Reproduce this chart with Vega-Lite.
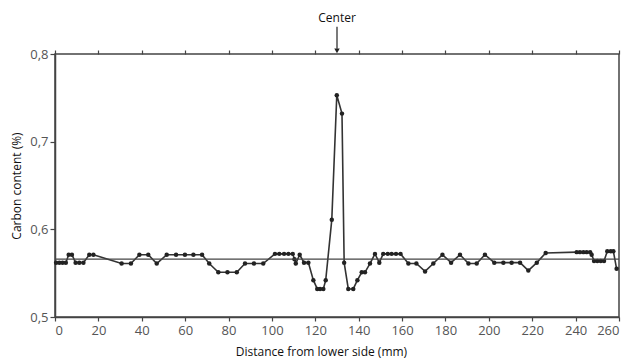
{
  "$schema": "https://vega.github.io/schema/vega-lite/v6.json",
  "width": 564,
  "height": 263,
  "autosize": {"type": "none"},
  "padding": {"left": 55, "top": 54, "right": 11, "bottom": 45},
  "background": "white",
  "config": {
    "view": {"stroke": "#444", "strokeWidth": 1.5},
    "axis": {
      "grid": false,
      "domainColor": "#444",
      "domainWidth": 1.5,
      "tickColor": "#444",
      "tickWidth": 1.2,
      "labelFont": "Open Sans",
      "labelFontSize": 13,
      "labelColor": "#555",
      "titleFont": "Open Sans",
      "titleFontSize": 12,
      "titleFontWeight": "normal",
      "titleColor": "#111"
    }
  },
  "datasets": {
    "profile": [
      {"d": 0.5, "c": 0.562}, {"d": 2, "c": 0.562}, {"d": 3.5, "c": 0.562}, {"d": 5, "c": 0.562},
      {"d": 6.3, "c": 0.571}, {"d": 7.8, "c": 0.571}, {"d": 9.5, "c": 0.562}, {"d": 11.2, "c": 0.562},
      {"d": 13.1, "c": 0.562}, {"d": 15.8, "c": 0.571}, {"d": 17.7, "c": 0.571}, {"d": 30.7, "c": 0.561},
      {"d": 35, "c": 0.561}, {"d": 38.9, "c": 0.571}, {"d": 43, "c": 0.571}, {"d": 46.9, "c": 0.561},
      {"d": 51.5, "c": 0.571}, {"d": 55.8, "c": 0.571}, {"d": 59.9, "c": 0.571}, {"d": 63.8, "c": 0.571},
      {"d": 67.8, "c": 0.571}, {"d": 71.1, "c": 0.561}, {"d": 75.3, "c": 0.551}, {"d": 79.5, "c": 0.551},
      {"d": 83.8, "c": 0.551}, {"d": 87.6, "c": 0.561}, {"d": 91.7, "c": 0.561}, {"d": 96, "c": 0.561},
      {"d": 101.4, "c": 0.572}, {"d": 103.4, "c": 0.572}, {"d": 105.6, "c": 0.572}, {"d": 107.6, "c": 0.572},
      {"d": 109.6, "c": 0.572}, {"d": 110.4, "c": 0.566}, {"d": 111, "c": 0.561}, {"d": 112.8, "c": 0.571},
      {"d": 114.8, "c": 0.562}, {"d": 116.8, "c": 0.562}, {"d": 119.1, "c": 0.542}, {"d": 120.9, "c": 0.532},
      {"d": 122.2, "c": 0.532}, {"d": 123.7, "c": 0.532}, {"d": 124.8, "c": 0.542}, {"d": 127.6, "c": 0.611},
      {"d": 129.9, "c": 0.753}, {"d": 132.3, "c": 0.732}, {"d": 133.3, "c": 0.562}, {"d": 135.2, "c": 0.532},
      {"d": 137.5, "c": 0.532}, {"d": 139.4, "c": 0.542}, {"d": 141.4, "c": 0.551}, {"d": 142.9, "c": 0.551},
      {"d": 145.2, "c": 0.561}, {"d": 147.5, "c": 0.572}, {"d": 149.5, "c": 0.562}, {"d": 151.3, "c": 0.572},
      {"d": 153.4, "c": 0.572}, {"d": 155.2, "c": 0.572}, {"d": 157.2, "c": 0.572}, {"d": 159.3, "c": 0.572},
      {"d": 162.9, "c": 0.561}, {"d": 166.6, "c": 0.561}, {"d": 170.6, "c": 0.552}, {"d": 174.4, "c": 0.561},
      {"d": 178.6, "c": 0.571}, {"d": 182.6, "c": 0.562}, {"d": 186.7, "c": 0.571}, {"d": 190.6, "c": 0.561},
      {"d": 194.4, "c": 0.561}, {"d": 198.2, "c": 0.571}, {"d": 202.5, "c": 0.562}, {"d": 206.7, "c": 0.562},
      {"d": 210.5, "c": 0.562}, {"d": 214.4, "c": 0.562}, {"d": 218.2, "c": 0.553}, {"d": 222.1, "c": 0.562},
      {"d": 226.2, "c": 0.573}, {"d": 240.5, "c": 0.574}, {"d": 242, "c": 0.574}, {"d": 243.6, "c": 0.574},
      {"d": 245.1, "c": 0.574}, {"d": 246.7, "c": 0.574}, {"d": 247.4, "c": 0.571}, {"d": 248.5, "c": 0.564},
      {"d": 250, "c": 0.564}, {"d": 251.6, "c": 0.564}, {"d": 253.1, "c": 0.564}, {"d": 254.6, "c": 0.575},
      {"d": 256.2, "c": 0.575}, {"d": 257.4, "c": 0.575}, {"d": 258.9, "c": 0.555}
    ],
    "mean": [{"d": 0, "d2": 260, "c": 0.566}],
    "center": [{"d": 130, "c": 0.841, "c_top": 0.831, "c_bot": 0.806, "c_tip": 0.8035, "label": "Center"}]
  },
  "resolve": {"axis": {"x": "independent", "y": "independent"}},
  "layer": [
    {
      "data": {"name": "profile"},
      "mark": {"type": "line", "color": "#333", "strokeWidth": 1.6},
      "encoding": {
        "x": {
          "field": "d", "type": "quantitative",
          "scale": {"domain": [0, 260], "nice": false, "zero": false},
          "axis": {
            "orient": "bottom",
            "values": [0, 20, 40, 60, 80, 100, 120, 140, 160, 180, 200, 220, 240, 260],
            "format": "d",
            "tickSize": 4,
            "labelPadding": 3,
            "title": "Distance from lower side (mm)",
            "titlePadding": 9,
            "titleX": 266
          }
        },
        "y": {
          "field": "c", "type": "quantitative",
          "scale": {"domain": [0.5, 0.8], "nice": false, "zero": false},
          "axis": {
            "orient": "left",
            "values": [0.5, 0.6, 0.7, 0.8],
            "labelExpr": "replace(format(datum.value, '.1f'), '.', ',')",
            "tickSize": 5,
            "labelPadding": 2,
            "title": "Carbon content (%)",
            "titlePadding": 6
          }
        }
      }
    },
    {
      "data": {"name": "profile"},
      "mark": {"type": "point", "filled": true, "color": "#222", "size": 20, "opacity": 1},
      "encoding": {
        "x": {"field": "d", "type": "quantitative", "axis": null},
        "y": {"field": "c", "type": "quantitative", "axis": null}
      }
    },
    {
      "data": {"name": "mean"},
      "mark": {"type": "rule", "color": "#444", "strokeWidth": 1.3},
      "encoding": {
        "x": {
          "field": "d", "type": "quantitative",
          "axis": {
            "orient": "top",
            "values": [0, 20, 40, 60, 80, 100, 120, 140, 160, 180, 200, 220, 240, 260],
            "labels": false,
            "domain": false,
            "tickSize": 4,
            "title": null
          }
        },
        "x2": {"field": "d2"},
        "y": {"field": "c", "type": "quantitative", "axis": null}
      }
    },
    {
      "data": {"name": "center"},
      "mark": {"type": "rule", "color": "#222", "strokeWidth": 1.2},
      "encoding": {
        "x": {"field": "d", "type": "quantitative", "axis": null},
        "y": {"field": "c_top", "type": "quantitative", "axis": null},
        "y2": {"field": "c_bot"}
      }
    },
    {
      "data": {"name": "center"},
      "mark": {"type": "point", "shape": "triangle-down", "filled": true, "color": "#222", "size": 30, "opacity": 1},
      "encoding": {
        "x": {"field": "d", "type": "quantitative", "axis": null},
        "y": {"field": "c_tip", "type": "quantitative", "axis": null}
      }
    },
    {
      "data": {"name": "center"},
      "mark": {"type": "text", "font": "Open Sans", "fontSize": 12, "color": "#111", "baseline": "middle", "align": "center"},
      "encoding": {
        "x": {"field": "d", "type": "quantitative", "axis": null},
        "y": {"field": "c", "type": "quantitative", "axis": null},
        "text": {"field": "label"}
      }
    }
  ]
}
